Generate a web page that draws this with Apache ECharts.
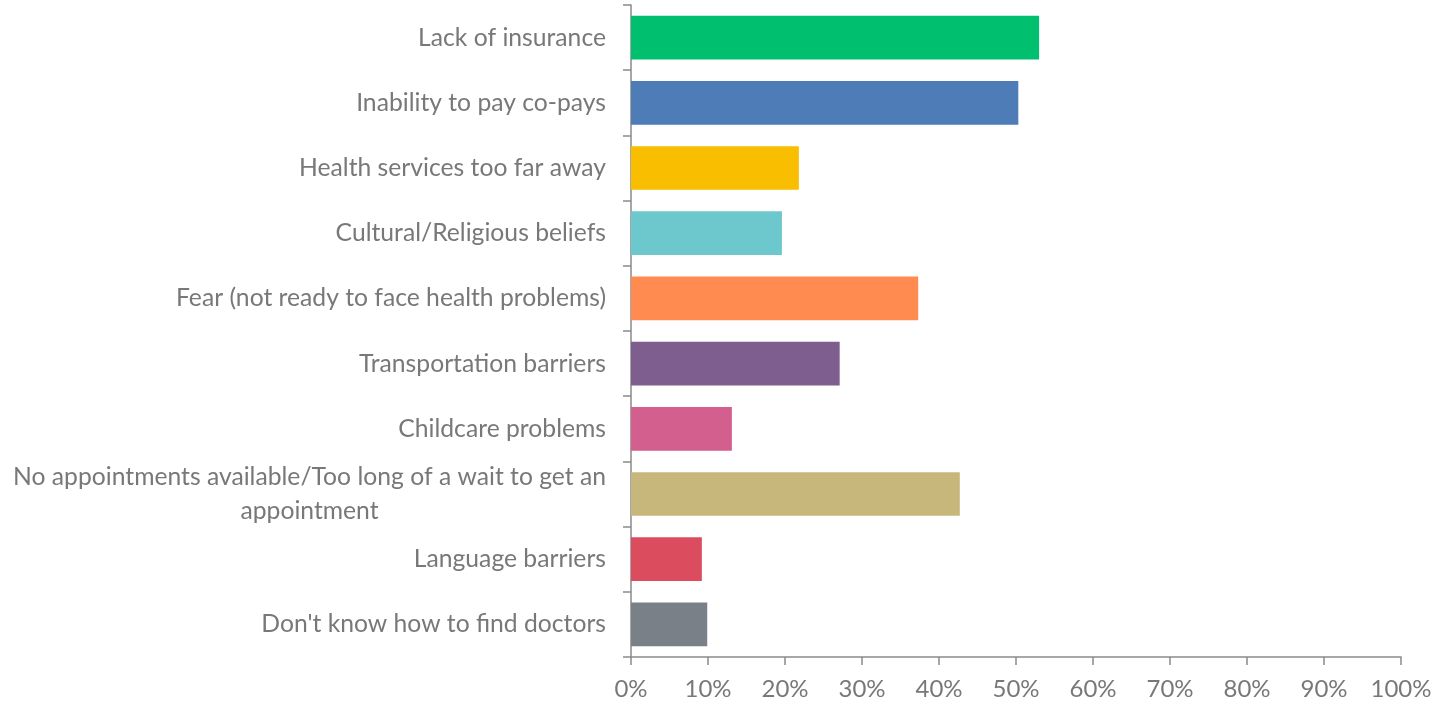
<!DOCTYPE html>
<html>
<head>
<meta charset="utf-8">
<script src="https://cdn.jsdelivr.net/npm/echarts@6/dist/echarts.min.js"></script>
<style>
  html, body { margin: 0; padding: 0; background: #fff; }
  #chart { width: 1441px; height: 704px; }
</style>
</head>
<body>
<div id="chart"></div>
<script>
// Barriers to accessing health care, share of respondents
const categories = [
  "Lack of insurance",
  "Inability to pay co-pays",
  "Health services too far away",
  "Cultural/Religious beliefs",
  "Fear (not ready to face health problems)",
  "Transportation barriers",
  "Childcare problems",
  "No appointments available/Too long of a wait to get an appointment",
  "Language barriers",
  "Don't know how to find doctors"
];
const values = [53.0, 50.3, 21.8, 19.6, 37.3, 27.1, 13.1, 42.7, 9.2, 9.9];
const barColors = [
  "#00BF6F", "#4E7CB6", "#F9BE00", "#6CC8CC", "#FF8B50",
  "#7D5E8F", "#D35F8E", "#C8B77A", "#DB4C5F", "#7A8088"
];
const xTicks = [0, 10, 20, 30, 40, 50, 60, 70, 80, 90, 100];

const axisGray = "#8a8a8a";
const textGray = "#787878";
const fontFamily = "Lato, 'Open Sans', sans-serif";

// Wrap long category names at word boundaries
function wrapLabel(text, maxChars) {
  const words = text.split(" ");
  const lines = [];
  let line = "";
  words.forEach(w => {
    const next = line ? line + " " + w : w;
    if (next.length > maxChars && line) {
      lines.push(line);
      line = w;
    } else {
      line = next;
    }
  });
  if (line) lines.push(line);
  return lines.map(l => "{c|" + l + "}").join("\n");
}

const chart = echarts.init(document.getElementById("chart"), null, { renderer: "canvas" });
chart.setOption({
  animation: false,
  grid: { left: 631, right: 40, top: 5, bottom: 47, containLabel: false },
  xAxis: {
    type: "value",
    min: xTicks[0],
    max: xTicks[xTicks.length - 1],
    interval: xTicks[1] - xTicks[0],
    splitLine: { show: false },
    axisLine: { show: true, lineStyle: { color: axisGray, width: 1.5 } },
    axisTick: { show: true, length: 8, lineStyle: { color: axisGray, width: 1.5 } },
    axisLabel: {
      margin: 20,
      color: textGray,
      fontFamily: fontFamily,
      fontSize: 24,
      formatter: v => v + "%"
    }
  },
  yAxis: {
    type: "category",
    inverse: true,
    data: categories,
    axisLine: { show: true, lineStyle: { color: axisGray, width: 1.5 } },
    axisTick: { show: true, length: 8, lineStyle: { color: axisGray, width: 1.5 } },
    axisLabel: {
      margin: 25,
      color: textGray,
      fontFamily: fontFamily,
      fontSize: 24.7,
      formatter: v => wrapLabel(v, 56),
      rich: {
        c: {
          align: "center",
          color: textGray,
          fontFamily: fontFamily,
          fontSize: 24.7,
          lineHeight: 34
        }
      }
    }
  },
  series: [{
    type: "bar",
    barCategoryGap: "33%",
    data: values.map((v, i) => ({ value: v, itemStyle: { color: barColors[i] } }))
  }]
});
</script>
</body>
</html>
